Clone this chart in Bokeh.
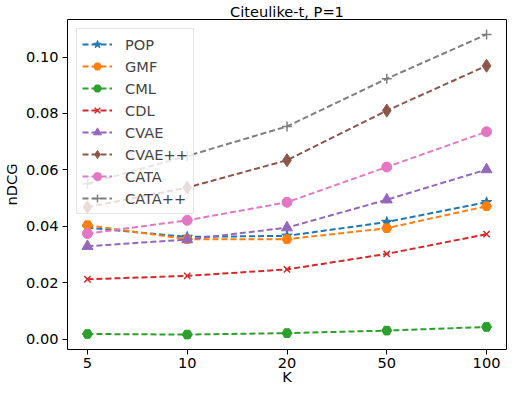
from bokeh.plotting import figure
from bokeh.models import Range1d, FixedTicker, NumeralTickFormatter, Legend, LinearAxis
from bokeh.embed import file_html
from bokeh.resources import INLINE

K_labels = ["5", "10", "20", "50", "100"]
y_ticks = [0.00, 0.02, 0.04, 0.06, 0.08, 0.10]
x_title = "K"
y_title = "nDCG"
chart_title = "Citeulike-t, P=1"

pop = [0.0395, 0.0362, 0.0366, 0.0415, 0.0485]
gmf = [0.0404, 0.0354, 0.0354, 0.0393, 0.0471]
cml = [0.0018, 0.0016, 0.0021, 0.0030, 0.0043]
cdl = [0.0212, 0.0224, 0.0247, 0.0302, 0.0372]
cvae = [0.0329, 0.0353, 0.0395, 0.0494, 0.0601]
cvaepp = [0.0468, 0.0537, 0.0634, 0.0810, 0.0969]
cata = [0.0374, 0.0421, 0.0485, 0.0610, 0.0735]
catapp = [0.0551, 0.0649, 0.0754, 0.0923, 0.1080]

series = [
    ("POP", pop, "#1f77b4", "star", 11),
    ("GMF", gmf, "#ff7f0e", "hex", 10),
    ("CML", cml, "#2ca02c", "hex", 10),
    ("CDL", cdl, "#d62728", "x", 9),
    ("CVAE", cvae, "#9467bd", "triangle", 11),
    ("CVAE++", cvaepp, "#8c564b", "diamond", 13),
    ("CATA", cata, "#e377c2", "circle", 10),
    ("CATA++", catapp, "#7f7f7f", "cross", 10),
]

FONT = "DejaVu Sans"
FS = "14.6px"
x = list(range(len(K_labels)))
x_mid = (x[0] + x[-1]) / 2

p = figure(width=507, height=387, output_backend="svg", toolbar_location=None,
           x_range=Range1d(-0.2, 4.2), y_range=Range1d(-0.0037, 0.1133),
           title=chart_title,
           min_border_left=64, min_border_right=1, min_border_top=19, min_border_bottom=30)

p.title.align = "center"
p.title.text_font = FONT
p.title.text_font_size = FS
p.title.text_font_style = "normal"
p.title.text_color = "black"
p.title.standoff = 0
p.title.offset = 0

p.outline_line_color = "black"
p.outline_line_width = 1
p.xgrid.visible = False
p.ygrid.visible = False

for ax in (p.xaxis, p.yaxis):
    ax.major_label_text_font = FONT
    ax.major_label_text_font_size = FS
    ax.major_label_text_color = "black"
    ax.axis_label_text_font = FONT
    ax.axis_label_text_font_size = FS
    ax.axis_label_text_font_style = "normal"
    ax.axis_label_text_color = "black"
    ax.axis_line_color = None
    ax.major_tick_in = 0
    ax.major_tick_out = 5
    ax.major_tick_line_color = "black"
    ax.minor_tick_line_color = None

p.xaxis.ticker = FixedTicker(ticks=x)
p.xaxis.major_label_overrides = {i: lab for i, lab in enumerate(K_labels)}
p.xaxis.major_label_standoff = 3

# x-axis title drawn as the single label of a second, tick-less axis below
kaxis = LinearAxis(ticker=FixedTicker(ticks=[x_mid]),
                   major_label_overrides={x_mid: x_title},
                   major_label_text_font=FONT, major_label_text_font_size=FS,
                   major_label_text_color="black", major_label_standoff=-3,
                   major_tick_in=0, major_tick_out=0, minor_tick_line_color=None,
                   major_tick_line_color=None, axis_line_color=None)
p.add_layout(kaxis, "below")

p.yaxis.ticker = FixedTicker(ticks=y_ticks)
p.yaxis.formatter = NumeralTickFormatter(format="0.00")
p.yaxis.axis_label = y_title
p.yaxis.axis_label_standoff = 3
p.yaxis.major_label_standoff = 4

items = []
for name, vals, color, marker, size in series:
    r1 = p.line(x, vals, line_color=color, line_width=2, line_dash="6 3")
    if marker in ("x", "cross"):
        r2 = p.scatter(x, vals, marker=marker, size=size, line_color=color, line_width=1.5)
    else:
        r2 = p.scatter(x, vals, marker=marker, size=size, fill_color=color, line_color=color)
    items.append((name, [r1, r2]))

legend = Legend(items=items, location="top_left")
legend.label_text_font = FONT
legend.label_text_font_size = FS
legend.label_standoff = 13
legend.glyph_width = 30
legend.glyph_height = 20
legend.label_height = 20
legend.spacing = 2
legend.padding = 5
legend.margin = 9
legend.border_line_color = "#cccccc"
legend.border_line_width = 1
legend.background_fill_alpha = 0.8
p.add_layout(legend)

open("out.html", "w").write(file_html(p, INLINE))
